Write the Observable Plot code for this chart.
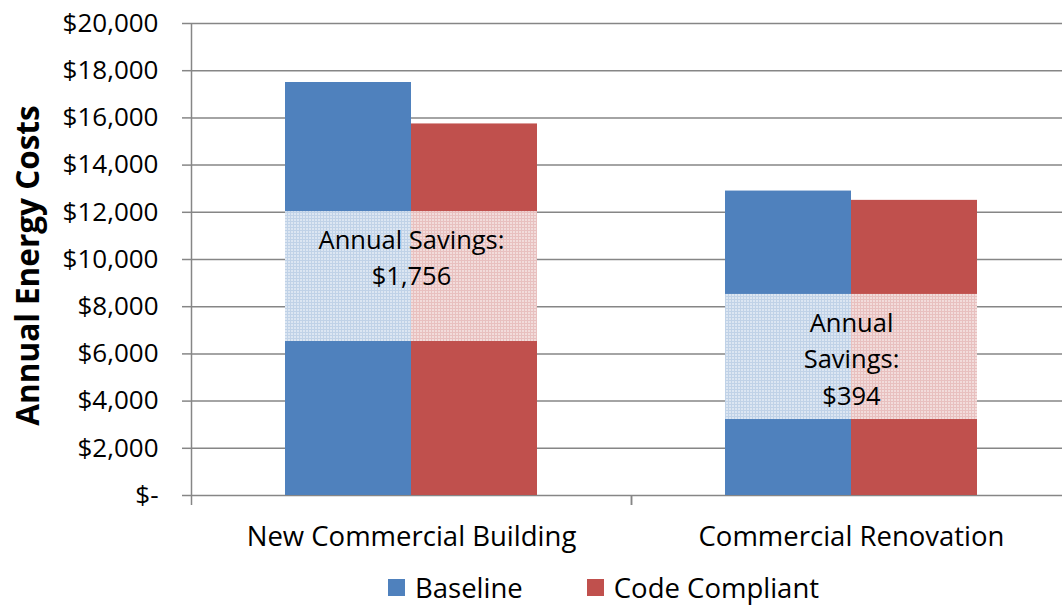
<!DOCTYPE html>
<html><head><meta charset="utf-8">
<script src="https://cdn.jsdelivr.net/npm/d3@7"></script>
<script src="https://cdn.jsdelivr.net/npm/@observablehq/plot@0.6"></script>
<style>
body{margin:0;background:#fff;font-family:"Open Sans",sans-serif;width:1062px;height:606px;overflow:hidden}
#legend{display:flex;align-items:center;height:50px;margin-left:388px;font-size:27.5px;color:#000}
.item{display:flex;align-items:center;margin-right:64px}
.sw{width:17px;height:17px;margin-right:10px}
</style>
</head><body><div id="chart"></div><div id="legend"></div>
<script>
const categories = ["New Commercial Building", "Commercial Renovation"];
const seriesNames = ["Baseline", "Code Compliant"];
const baseline = [17500, 12900];
const codeCompliant = [15744, 12506];
const savingsLow = [6525, 3220];
const savingsHigh = [12030, 8520];
const savingsLabels = ["Annual Savings:\n$1,756", "Annual\nSavings:\n$394"];
const yTicks = [0, 2000, 4000, 6000, 8000, 10000, 12000, 14000, 16000, 18000, 20000];
const colors = ["#4f81bd", "#c0504d"];
const yTitle = "Annual Energy Costs";

const rows = categories.map((c, i) => ({
  category: c, baseline: baseline[i], code: codeCompliant[i],
  low: savingsLow[i], high: savingsHigh[i], label: savingsLabels[i]
}));
const axisColor = "#868686";
const fmt = d => d === 0 ? "$-" : "$" + d3.format(",")(d);

const chart = Plot.plot({
  width: 1062, height: 562,
  marginLeft: 191, marginRight: 0, marginTop: 23, marginBottom: 67,
  style: {fontFamily: "'Open Sans', sans-serif", background: "#fff", color: "#000"},
  x: {domain: categories, range: [191, 1071], padding: 0},
  y: {domain: [0, 20000], axis: null},
  marks: [
    Plot.gridY(yTicks, {stroke: axisColor, strokeOpacity: 1, strokeWidth: 1.5}),
    Plot.barY(rows, {x: "category", y: "baseline", fill: colors[0], insetLeft: 94, insetRight: 220}),
    Plot.barY(rows, {x: "category", y: "code", fill: colors[1], insetLeft: 220, insetRight: 94}),
    Plot.barY(rows, {x: "category", y1: "low", y2: "high", fill: "url(#savingsPattern)", insetLeft: 94, insetRight: 94}),
    Plot.text(rows, {x: "category", y: "high", text: "label", lineAnchor: "top", dy: 12, fontSize: 25.5, lineHeight: 1.42, fill: "#000"}),
    Plot.ruleX([categories[0]], {x: d => d, dx: -220, stroke: axisColor, strokeWidth: 1.5}),
    Plot.axisY(yTicks, {tickFormat: fmt, tickSize: 9, tickPadding: 24, fontSize: 26, stroke: axisColor, strokeWidth: 1.5, label: null}),
    Plot.axisX({dx: -220, tickSize: 10, tickFormat: () => "", stroke: axisColor, strokeWidth: 1.5, label: null}),
    Plot.axisX({dx: 220, tickSize: 10, tickFormat: () => "", stroke: axisColor, strokeWidth: 1.5, label: null}),
    Plot.axisX({tickSize: 0, tickPadding: 31, fontSize: 27.5, fill: "#000", label: null}),
    Plot.text([yTitle], {frameAnchor: "left", textAnchor: "middle", rotate: -90, dx: -163, dy: 6, fontSize: 31.5, fontWeight: "bold", fill: "#000"})
  ]
});

const ns = "http://www.w3.org/2000/svg";
const defs = document.createElementNS(ns, "defs");
defs.innerHTML = `<pattern id="savingsPattern" patternUnits="userSpaceOnUse" width="3" height="3">
  <rect x="0" y="0" width="2" height="2" fill="#fff" fill-opacity="0.8"/>
  <rect x="2" y="0" width="1" height="3" fill="#fff" fill-opacity="0.64"/>
  <rect x="0" y="2" width="2" height="1" fill="#fff" fill-opacity="0.64"/>
</pattern>`;
chart.insertBefore(defs, chart.firstChild);
document.getElementById("chart").appendChild(chart);

const legend = document.getElementById("legend");
seriesNames.forEach((s, i) => {
  const it = document.createElement("div"); it.className = "item";
  const sw = document.createElement("div"); sw.className = "sw"; sw.style.background = colors[i];
  const tx = document.createElement("span"); tx.textContent = s;
  it.appendChild(sw); it.appendChild(tx); legend.appendChild(it);
});
</script>
</body></html>
